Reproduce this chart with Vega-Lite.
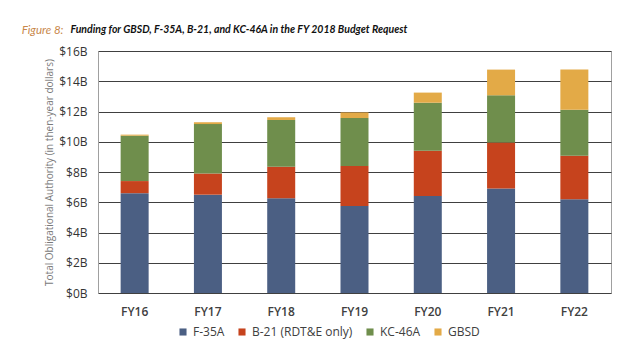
{
  "$schema": "https://vega.github.io/schema/vega-lite/v6.json",
  "width": 513,
  "height": 242,
  "padding": {"left": 21, "top": 24, "right": 5, "bottom": 2},
  "background": "white",
  "title": {
    "text": "Figure 8:",
    "color": "#c8874a",
    "font": "Lato",
    "fontStyle": "italic",
    "fontWeight": "normal",
    "fontSize": 11.5,
    "anchor": "start",
    "frame": "bounds",
    "baseline": "alphabetic",
    "offset": -21,
    "dx": -23
  },
  "data": {
    "values": [
      {"year": "FY16", "program": "F-35A", "rank": 1, "value": 6.6},
      {"year": "FY16", "program": "B-21 (RDT&E only)", "rank": 2, "value": 0.8},
      {"year": "FY16", "program": "KC-46A", "rank": 3, "value": 3.0},
      {"year": "FY16", "program": "GBSD", "rank": 4, "value": 0.07},
      {"year": "FY17", "program": "F-35A", "rank": 1, "value": 6.5},
      {"year": "FY17", "program": "B-21 (RDT&E only)", "rank": 2, "value": 1.4},
      {"year": "FY17", "program": "KC-46A", "rank": 3, "value": 3.27},
      {"year": "FY17", "program": "GBSD", "rank": 4, "value": 0.12},
      {"year": "FY18", "program": "F-35A", "rank": 1, "value": 6.27},
      {"year": "FY18", "program": "B-21 (RDT&E only)", "rank": 2, "value": 2.07},
      {"year": "FY18", "program": "KC-46A", "rank": 3, "value": 3.1},
      {"year": "FY18", "program": "GBSD", "rank": 4, "value": 0.18},
      {"year": "FY19", "program": "F-35A", "rank": 1, "value": 5.76},
      {"year": "FY19", "program": "B-21 (RDT&E only)", "rank": 2, "value": 2.64},
      {"year": "FY19", "program": "KC-46A", "rank": 3, "value": 3.17},
      {"year": "FY19", "program": "GBSD", "rank": 4, "value": 0.37},
      {"year": "FY20", "program": "F-35A", "rank": 1, "value": 6.42},
      {"year": "FY20", "program": "B-21 (RDT&E only)", "rank": 2, "value": 2.98},
      {"year": "FY20", "program": "KC-46A", "rank": 3, "value": 3.18},
      {"year": "FY20", "program": "GBSD", "rank": 4, "value": 0.67},
      {"year": "FY21", "program": "F-35A", "rank": 1, "value": 6.91},
      {"year": "FY21", "program": "B-21 (RDT&E only)", "rank": 2, "value": 3.04},
      {"year": "FY21", "program": "KC-46A", "rank": 3, "value": 3.12},
      {"year": "FY21", "program": "GBSD", "rank": 4, "value": 1.7},
      {"year": "FY22", "program": "F-35A", "rank": 1, "value": 6.2},
      {"year": "FY22", "program": "B-21 (RDT&E only)", "rank": 2, "value": 2.87},
      {"year": "FY22", "program": "KC-46A", "rank": 3, "value": 3.05},
      {"year": "FY22", "program": "GBSD", "rank": 4, "value": 2.65}
    ]
  },
  "config": {
    "view": {"stroke": "#a0a0a0", "strokeWidth": 1},
    "font": "Open Sans"
  },
  "layer": [
    {
      "mark": {"type": "bar", "width": 28},
      "encoding": {
        "x": {
          "field": "year",
          "type": "nominal",
          "sort": null,
          "scale": {"paddingInner": 0.62, "paddingOuter": 0.31},
          "axis": {
            "title": null,
            "labelAngle": 0,
            "labelFont": "Open Sans",
            "labelFontSize": 12,
            "labelFontWeight": 600,
            "labelColor": "#404040",
            "labelPadding": 13,
            "ticks": false,
            "domain": false
          }
        },
        "y": {
          "field": "value",
          "type": "quantitative",
          "stack": "zero",
          "scale": {"domain": [0, 16], "nice": false},
          "axis": {
            "values": [0, 2, 4, 6, 8, 10, 12, 14, 16],
            "labelExpr": "'$' + datum.value + 'B'",
            "title": "Total Obligational Authority (in then-year dollars)",
            "titleFont": "Open Sans",
            "titleFontSize": 10,
            "titleFontWeight": "normal",
            "titleColor": "#7a7a7a",
            "titlePadding": 4,
            "labelFont": "Open Sans",
            "labelFontSize": 12,
            "labelColor": "#333333",
            "labelPadding": 11,
            "ticks": false,
            "domainColor": "#a0a0a0",
            "gridColor": "#404040",
            "gridWidth": 1
          }
        },
        "color": {
          "field": "program",
          "type": "nominal",
          "scale": {
            "domain": ["F-35A", "B-21 (RDT&E only)", "KC-46A", "GBSD"],
            "range": ["#4b5f83", "#c6431d", "#6f8e4c", "#e3aa47"]
          },
          "legend": {
            "title": null,
            "orient": "none",
            "legendX": 79,
            "legendY": 275,
            "direction": "horizontal",
            "symbolType": "square",
            "symbolSize": 50,
            "symbolStrokeWidth": 0,
            "labelFont": "Open Sans",
            "labelFontSize": 12,
            "labelColor": "#404040",
            "columnPadding": 11
          }
        },
        "order": {"field": "rank", "type": "quantitative", "sort": "ascending"}
      }
    },
    {
      "mark": {"type": "rule", "opacity": 0},
      "encoding": {
        "x": {
          "field": "year",
          "type": "nominal",
          "sort": null,
          "axis": {
            "orient": "top",
            "labels": false,
            "ticks": false,
            "domain": false,
            "grid": false,
            "title": "Funding for GBSD, F-35A, B-21, and KC-46A in the FY 2018 Budget Request",
            "titleFont": "Lato",
            "titleFontStyle": "italic",
            "titleFontWeight": "bold",
            "titleFontSize": 10.5,
            "titleColor": "#111111",
            "titleAnchor": "start",
            "titleAlign": "left",
            "titleBaseline": "alphabetic",
            "titleX": -28,
            "titleY": -19
          }
        }
      }
    }
  ],
  "resolve": {"axis": {"x": "independent"}}
}
